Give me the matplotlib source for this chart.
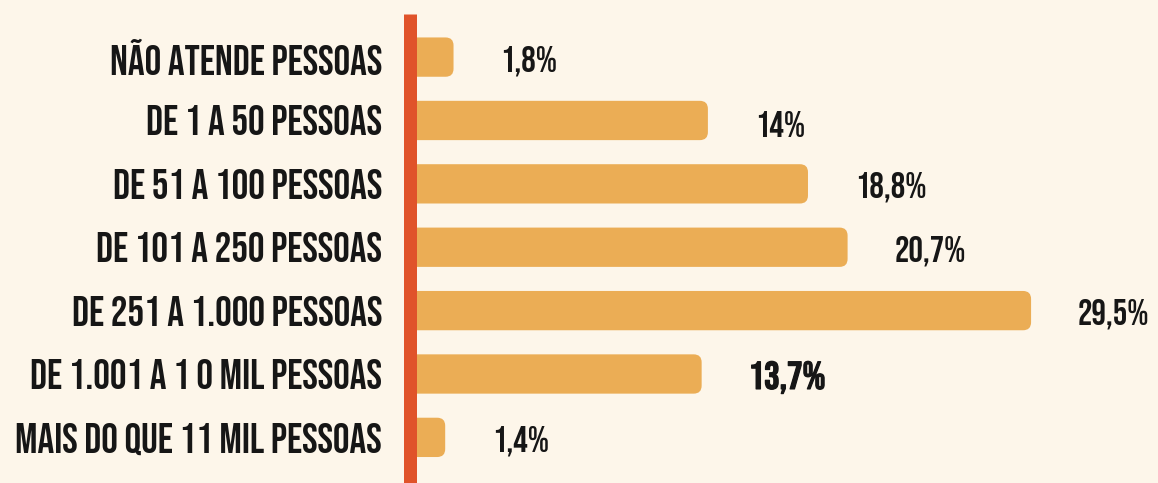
import matplotlib
matplotlib.use("Agg")
import matplotlib.pyplot as plt
import matplotlib.patheffects as pe
from matplotlib.patches import FancyBboxPatch

categories = [
    "NÃO ATENDE PESSOAS",
    "DE 1 A 50 PESSOAS",
    "DE 51 A 100 PESSOAS",
    "DE 101 A 250 PESSOAS",
    "DE 251 A 1.000 PESSOAS",
    "DE 1.001 A 1 0 MIL PESSOAS",
    "MAIS DO QUE 11 MIL PESSOAS",
]
values = [1.8, 14, 18.8, 20.7, 29.5, 13.7, 1.4]
value_labels = ["1,8%", "14%", "18,8%", "20,7%", "29,5%", "13,7%", "1,4%"]

BG = "#fdf6ea"
BAR = "#ebad55"
LINE = "#e0532a"
TEXT = "#161616"
FONT = ["Bebas Neue", "DejaVu Sans"]

W, H, DPI = 11.58, 4.83, 100
fig = plt.figure(figsize=(W, H), dpi=DPI, facecolor=BG)

x0_px, top_px = 416, 14
ax = fig.add_axes([x0_px / 1158, 0, 1 - x0_px / 1158, 1 - top_px / 483])
ax.set_facecolor(BG)

px_per_unit = 20.85
ax.set_xlim(0, (1158 - x0_px) / px_per_unit)
ax.set_ylim(6.72, -0.68)

pos = list(range(len(categories)))
bars = ax.barh(pos, values, height=0.62, color=BAR)

# swap the plain rectangles for rounded ones (radius in x units, aspect fixed)
y_px_per_unit = (483 - top_px) / (6.72 + 0.68)
aspect = px_per_unit / y_px_per_unit
r = 8 / px_per_unit
for rect in bars:
    x, y = rect.get_x(), rect.get_y()
    w, h = rect.get_width(), rect.get_height()
    rect.set_visible(False)
    ax.add_patch(FancyBboxPatch((x - r, y), w + r, h,
                                boxstyle=f"round,pad=0,rounding_size={r}",
                                mutation_aspect=aspect, fc=BAR, ec="none", zorder=2))

ax.axvline(-6.5 / px_per_unit, color=LINE, lw=13 * 72 / DPI, zorder=3,
           clip_on=False, solid_capstyle="butt")

ax.set_yticks(pos, categories)
ax.tick_params(axis="y", length=0, pad=34 * 72 / DPI, labelsize=30, labelcolor=TEXT)
for lbl in ax.get_yticklabels():
    lbl.set_fontfamily(FONT)
ax.set_xticks([])
for s in ax.spines.values():
    s.set_visible(False)

gap = 2.25
for i, (v, lab) in enumerate(zip(values, value_labels)):
    big = lab == "13,7%"
    t = ax.text(v + gap, i + 0.05, lab, va="center", ha="left",
                fontsize=28 if big else 26, family=FONT, color=TEXT)
    if big:
        t.set_path_effects([pe.withStroke(linewidth=0.9, foreground=TEXT)])

fig.savefig("out.png", dpi=DPI, facecolor=BG)
